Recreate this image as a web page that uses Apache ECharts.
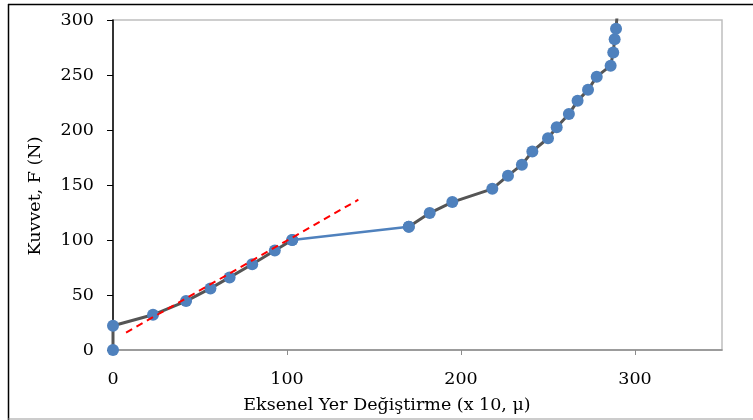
<!DOCTYPE html>
<html><head><meta charset="utf-8">
<script src="https://cdn.jsdelivr.net/npm/echarts@6/dist/echarts.min.js"></script>
<style>html,body{margin:0;padding:0;background:#fff}#c{width:753px;height:420px}</style>
</head><body><div id="c"></div>
<script>
// data
const xTicks = [0, 100, 200, 300];
const yTicks = [0, 50, 100, 150, 200, 250, 300];
const xPart1 = [0, 0, 23, 42, 56, 67, 80, 93, 103];
const yPart1 = [0, 22, 32, 44.5, 56, 66, 78, 90.5, 100];
const xBridge = [103, 170];
const yBridge = [100, 112];
const xPart2 = [170, 182, 195, 218, 227, 235, 241, 250, 255, 262, 267, 273, 278, 286, 287.5, 288.3, 289.1, 290];
const yPart2 = [112, 124.5, 134.5, 146.5, 158.5, 168.5, 180.5, 192.5, 202.5, 214.5, 226.5, 236.5, 248.5, 258.5, 270.5, 282.5, 292, 310];
const xTrend = [7.5, 141];
const yTrend = [15.8, 136.6];
const xTitle = 'Eksenel Yer Değiştirme (x 10, μ)';
const yTitle = 'Kuvvet, F (N)';

const FONT = '"DejaVu Serif", serif';
const zip = (a, b) => a.map((v, i) => [v, b[i]]);
const blue = '#4F81BD';
const part2 = zip(xPart2, yPart2).map((p, i, arr) => i === arr.length - 1 ? {value: p, symbolSize: 0} : p);

const chart = echarts.init(document.getElementById('c'), null, {renderer: 'canvas'});
chart.setOption({
  animation: false,
  backgroundColor: '#fff',
  grid: {left: 113, right: 31, top: 20, bottom: 70, show: true, borderColor: '#BFBFBF', borderWidth: 1.5},
  xAxis: {
    type: 'value', min: 0, max: 350, interval: 100,
    axisLine: {show: true, lineStyle: {color: '#8C8C8C', width: 1.5}},
    axisTick: {show: true, length: 5, customValues: [100, 200, 300], lineStyle: {color: '#8C8C8C', width: 1}},
    axisLabel: {margin: 20, color: '#000', fontFamily: FONT, fontSize: 17.5, customValues: xTicks},
    splitLine: {show: false}
  },
  yAxis: {
    type: 'value', min: 0, max: 300, interval: 50,
    axisLine: {show: true, lineStyle: {color: '#000', width: 1.5}},
    axisTick: {show: true, length: 6, lineStyle: {color: '#000', width: 1}},
    axisLabel: {margin: 19, color: '#000', fontFamily: FONT, fontSize: 17.5, customValues: yTicks},
    splitLine: {show: false}
  },
  graphic: [
    {type: 'line', shape: {x1: 8, y1: 4.5, x2: 753, y2: 4.5}, style: {stroke: '#000', lineWidth: 1.5}, silent: true},
    {type: 'line', shape: {x1: 8.5, y1: 4, x2: 8.5, y2: 420}, style: {stroke: '#000', lineWidth: 1.5}, silent: true},
    {type: 'line', shape: {x1: 8, y1: 419, x2: 753, y2: 419}, style: {stroke: '#999', lineWidth: 1.2}, silent: true},
    {type: 'text', x: 387, y: 405, style: {text: xTitle, fill: '#000', font: '17.5px ' + FONT, align: 'center', verticalAlign: 'middle'}},
    {type: 'text', x: 35, y: 196, rotation: Math.PI / 2, style: {text: yTitle, fill: '#000', font: '17.5px ' + FONT, align: 'center', verticalAlign: 'middle'}}
  ],
  series: [
    {type: 'line', data: zip(xPart1, yPart1), symbol: 'circle', symbolSize: 12,
     lineStyle: {color: '#555555', width: 3}, itemStyle: {color: blue}, z: 3},
    {type: 'line', data: zip(xBridge, yBridge), symbol: 'circle', symbolSize: 12,
     lineStyle: {color: blue, width: 2.5}, itemStyle: {color: blue}, z: 3},
    {type: 'line', data: part2, symbol: 'circle', symbolSize: 12,
     lineStyle: {color: '#555555', width: 3}, itemStyle: {color: blue}, z: 3},
    {type: 'line', data: zip(xTrend, yTrend), symbol: 'none',
     lineStyle: {color: '#FF0000', width: 2, type: [7, 5]}, z: 4}
  ]
});
</script></body></html>
